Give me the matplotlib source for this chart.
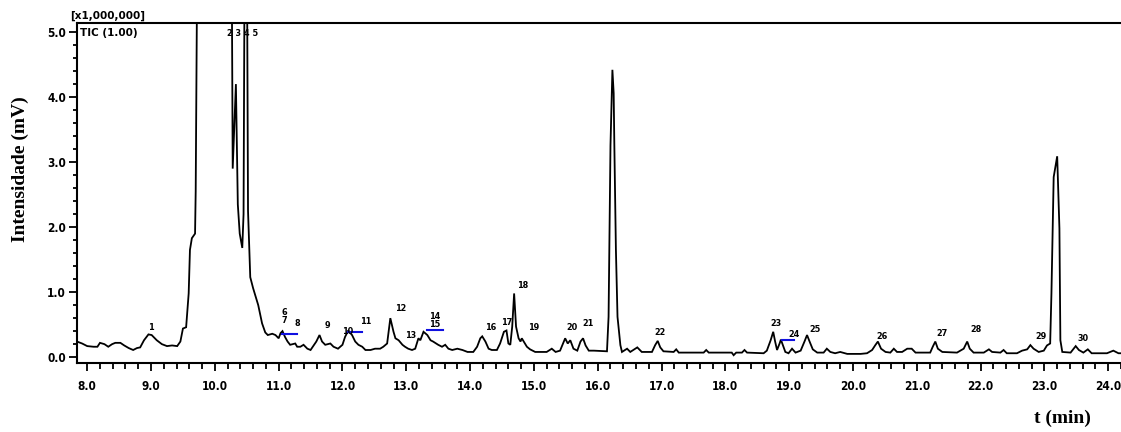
import matplotlib
matplotlib.use("Agg")
import matplotlib.pyplot as plt
from matplotlib.ticker import MultipleLocator, FormatStrFormatter

# ---- data ----
time_min = [7.84, 7.92, 8.00, 8.10, 8.16, 8.20, 8.27, 8.33, 8.39, 8.44, 8.52, 8.58, 8.65, 8.72, 8.78,
            8.83, 8.89, 8.96, 9.01, 9.09, 9.17, 9.25, 9.33, 9.41, 9.46, 9.50, 9.55, 9.59, 9.61, 9.64,
            9.69, 9.70, 9.73, 10.26, 10.28, 10.33, 10.36, 10.39, 10.43, 10.45, 10.47, 10.50, 10.52,
            10.555, 10.60, 10.68, 10.74, 10.79, 10.83, 10.90, 10.95, 11.00, 11.03, 11.06, 11.10,
            11.14, 11.18, 11.26, 11.29, 11.34, 11.39, 11.45, 11.50, 11.59, 11.64, 11.68, 11.73,
            11.81, 11.86, 11.93, 12.00, 12.04, 12.09, 12.15, 12.20, 12.25, 12.31, 12.36, 12.44,
            12.51, 12.59, 12.64, 12.70, 12.75, 12.80, 12.83, 12.88, 12.94, 12.98, 13.03, 13.09,
            13.14, 13.19, 13.22, 13.27, 13.33, 13.38, 13.42, 13.50, 13.56, 13.61, 13.66, 13.72,
            13.80, 13.88, 13.96, 14.05, 14.11, 14.16, 14.19, 14.24, 14.29, 14.34, 14.42, 14.47,
            14.53, 14.57, 14.60, 14.63, 14.66, 14.69, 14.72, 14.76, 14.79, 14.81, 14.84, 14.89,
            14.94, 15.02, 15.20, 15.28, 15.34, 15.41, 15.47, 15.49, 15.53, 15.57, 15.62, 15.68,
            15.73, 15.77, 15.81, 15.86, 15.94, 16.12, 16.145, 16.17, 16.20, 16.23, 16.25, 16.26,
            16.285, 16.31, 16.355, 16.38, 16.46, 16.51, 16.62, 16.69, 16.85, 16.90, 16.94, 16.98,
            17.03, 17.19, 17.23, 17.27, 17.66, 17.70, 17.74, 18.10, 18.13, 18.17, 18.26, 18.30,
            18.34, 18.60, 18.65, 18.71, 18.75, 18.78, 18.81, 18.85, 18.87, 18.90, 18.94, 18.99,
            19.045, 19.10, 19.18, 19.24, 19.28, 19.32, 19.37, 19.44, 19.54, 19.59, 19.645, 19.72,
            19.80, 19.91, 20.12, 20.22, 20.30, 20.35, 20.39, 20.44, 20.51, 20.585, 20.64, 20.69,
            20.77, 20.85, 20.92, 20.98, 21.21, 21.25, 21.29, 21.33, 21.40, 21.63, 21.735, 21.79,
            21.83, 21.89, 22.05, 22.13, 22.18, 22.31, 22.36, 22.41, 22.57, 22.65, 22.73, 22.78,
            22.83, 22.91, 22.99, 23.04, 23.09, 23.11, 23.145, 23.20, 23.235, 23.25, 23.28, 23.41,
            23.49, 23.54, 23.61, 23.68, 23.74, 23.98, 24.08, 24.16, 24.25]
intensity = [0.24, 0.21, 0.17, 0.16, 0.16, 0.22, 0.20, 0.16, 0.20, 0.22, 0.22, 0.18, 0.14, 0.11, 0.14,
             0.15, 0.26, 0.35, 0.34, 0.26, 0.20, 0.17, 0.18, 0.17, 0.24, 0.44, 0.46, 0.98, 1.65, 1.83,
             1.90, 2.55, 7.0, 7.0, 2.9, 4.2, 2.35, 1.9, 1.68, 2.2, 7.0, 7.0, 2.25,
             1.23, 1.06, 0.80, 0.52, 0.38, 0.34, 0.36, 0.34, 0.29, 0.37, 0.40, 0.31,
             0.24, 0.19, 0.21, 0.16, 0.16, 0.19, 0.13, 0.11, 0.24, 0.34, 0.24, 0.19,
             0.21, 0.16, 0.13, 0.19, 0.31, 0.41, 0.34, 0.24, 0.19, 0.16, 0.11, 0.11,
             0.13, 0.13, 0.16, 0.21, 0.60, 0.39, 0.29, 0.26, 0.19, 0.16, 0.13, 0.11,
             0.13, 0.29, 0.26, 0.39, 0.34, 0.26, 0.24, 0.19, 0.16, 0.19, 0.13, 0.11,
             0.13, 0.11, 0.08, 0.08, 0.16, 0.29, 0.32, 0.24, 0.13, 0.11, 0.11, 0.21,
             0.39, 0.41, 0.21, 0.19, 0.47, 0.98, 0.47, 0.29, 0.24, 0.29, 0.24, 0.16,
             0.12, 0.08, 0.08, 0.13, 0.08, 0.10, 0.24, 0.29, 0.21, 0.26, 0.13, 0.10,
             0.24, 0.29, 0.18, 0.10, 0.10, 0.09, 0.09, 0.62, 3.26, 4.42, 4.06, 3.29,
             1.65, 0.62, 0.185, 0.08, 0.13, 0.08, 0.15, 0.08, 0.08, 0.185, 0.25, 0.15,
             0.09, 0.08, 0.12, 0.07, 0.07, 0.11, 0.07, 0.07, 0.03, 0.07, 0.07, 0.11,
             0.07, 0.06, 0.10, 0.26, 0.39, 0.24, 0.11, 0.21, 0.27, 0.19, 0.08, 0.06,
             0.13, 0.07, 0.10, 0.24, 0.34, 0.24, 0.12, 0.07, 0.07, 0.13, 0.08, 0.06,
             0.08, 0.05, 0.05, 0.06, 0.11, 0.185, 0.24, 0.13, 0.08, 0.07, 0.13, 0.08,
             0.08, 0.13, 0.13, 0.07, 0.07, 0.16, 0.24, 0.13, 0.08, 0.07, 0.13, 0.24,
             0.13, 0.07, 0.07, 0.12, 0.08, 0.07, 0.11, 0.06, 0.06, 0.10, 0.12, 0.185,
             0.13, 0.08, 0.10, 0.18, 0.21, 0.98, 2.77, 3.09, 1.98, 0.26, 0.08, 0.07,
             0.17, 0.11, 0.07, 0.12, 0.06, 0.06, 0.10, 0.06, 0.06]

# peak labels
label_t = [9.00, 10.43, 11.09, 11.29, 11.76, 12.08, 12.36, 12.91, 13.06, 13.45, 14.32, 14.58,
           14.83, 14.99, 15.59, 15.85, 16.98, 18.80, 19.07, 19.41, 20.46, 21.39, 21.92, 22.94, 23.60]
label_v = [0.45, 4.98, 0.62, 0.52, 0.49, 0.40, 0.55, 0.75, 0.34, 0.57, 0.46, 0.54,
           1.10, 0.46, 0.45, 0.52, 0.38, 0.52, 0.35, 0.43, 0.31, 0.37, 0.43, 0.31, 0.29]
label_txt = ["1", "2 3 4 5", "6\n7", "8", "9", "10", "11", "12", "13", "14\n15", "16", "17",
             "18", "19", "20", "21", "22", "23", "24", "25", "26", "27", "28", "29", "30"]

# integration baseline markers (blue)
base_t0 = [11.06, 12.09, 13.33, 18.89]
base_t1 = [11.28, 12.31, 13.58, 19.07]
base_v = [0.354, 0.39, 0.415, 0.26]

x_ticks = [8.0, 9.0, 10.0, 11.0, 12.0, 13.0, 14.0, 15.0, 16.0, 17.0, 18.0, 19.0, 20.0, 21.0,
           22.0, 23.0, 24.0]
y_ticks = [0.0, 1.0, 2.0, 3.0, 4.0, 5.0]

# ---- figure ----
W, H = 1121, 432
fig = plt.figure(figsize=(W / 100, H / 100), dpi=100)
ax = fig.add_axes([77 / W, 1 - 363 / H, (1121 - 77) / W, (363 - 23) / H])

ax.plot(time_min, intensity, color="black", lw=1.3, solid_joinstyle="miter")
for a, b, v in zip(base_t0, base_t1, base_v):
    ax.plot([a, b], [v, v], color="#1010e0", lw=1.5)

for t, v, s in zip(label_t, label_v, label_txt):
    ax.text(t, v, s, fontsize=6.5, fontweight="bold", ha="center", va="center",
            family="DejaVu Sans", fontstretch="condensed", linespacing=0.85)

ax.set_xlim(7.84, 24.2)
ax.set_ylim(-0.09, 5.14)

ax.spines["right"].set_visible(False)
for sp in ["left", "bottom", "top"]:
    ax.spines[sp].set_linewidth(1.5)

ax.set_xticks(x_ticks)
ax.set_yticks(y_ticks)
ax.xaxis.set_minor_locator(MultipleLocator(0.2))
ax.yaxis.set_minor_locator(MultipleLocator(0.2))
ax.xaxis.set_major_formatter(FormatStrFormatter("%.1f"))
ax.yaxis.set_major_formatter(FormatStrFormatter("%.1f"))
ax.tick_params(axis="both", which="both", direction="out", width=1.3, top=False, right=False)
ax.tick_params(axis="x", which="major", length=6, pad=6)
ax.tick_params(axis="x", which="minor", length=4)
ax.tick_params(axis="y", which="major", length=6, pad=2)
ax.tick_params(axis="y", which="minor", length=3)
for lab in ax.get_xticklabels() + ax.get_yticklabels():
    lab.set_fontsize(8.5)
    lab.set_fontweight("bold")
    lab.set_family("DejaVu Sans")
    lab.set_fontstretch("condensed")

fig.text(20 / W, 1 - 169 / H, "Intensidade (mV)", rotation=90, ha="center", va="center",
         fontsize=14, fontweight="bold", family="Liberation Serif")
fig.text(1062 / W, 1 - 418 / H, "t (min)", ha="center", va="center",
         fontsize=14, fontweight="bold", family="Liberation Serif")
fig.text(70 / W, 1 - 16 / H, "[x1,000,000]", ha="left", va="center",
         fontsize=7.5, fontweight="bold", family="DejaVu Sans")
fig.text(80 / W, 1 - 33 / H, "TIC (1.00)", ha="left", va="center",
         fontsize=7.5, fontweight="bold", family="DejaVu Sans")

fig.savefig("out.png", dpi=100)
